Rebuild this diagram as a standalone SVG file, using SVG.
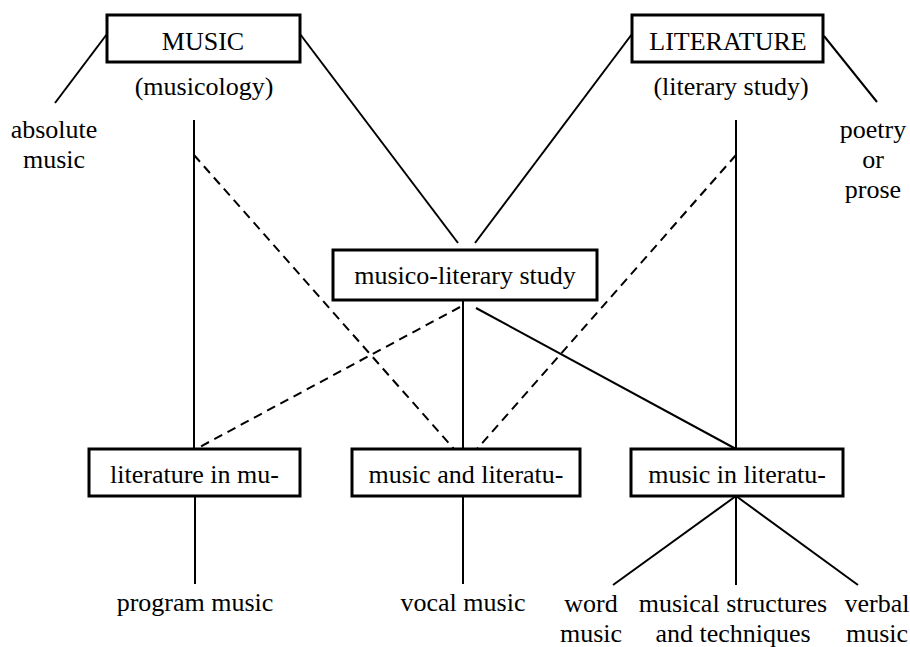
<svg xmlns="http://www.w3.org/2000/svg" width="910" height="647" viewBox="0 0 910 647">
<style>
text{font-family:"Liberation Serif","Times New Roman",serif;font-size:26px;fill:#000;text-anchor:middle}
.box{fill:#fff;stroke:#000;stroke-width:3}
.ln{stroke:#000;stroke-width:2;fill:none}
.ds{stroke:#000;stroke-width:2;fill:none;stroke-dasharray:9 6}
</style>
<rect width="910" height="647" fill="#fff"/>
<g id="connectors">
<line class="ln" x1="107" y1="34" x2="55" y2="103"/>
<line class="ln" x1="300" y1="34" x2="458" y2="243"/>
<line class="ln" x1="632" y1="34" x2="475" y2="243"/>
<line class="ln" x1="824" y1="36" x2="877" y2="102"/>
<line class="ln" x1="194" y1="120" x2="194" y2="449"/>
<line class="ln" x1="736" y1="120" x2="736" y2="449"/>
<line class="ds" x1="194" y1="155" x2="454" y2="449"/>
<line class="ds" x1="736" y1="155" x2="477" y2="449"/>
<line class="ds" x1="460" y1="307" x2="196" y2="449"/>
<line class="ln" x1="463" y1="301" x2="463" y2="449"/>
<line class="ln" x1="476" y1="308" x2="736" y2="449"/>
<line class="ln" x1="195" y1="496" x2="195" y2="584"/>
<line class="ln" x1="463" y1="496" x2="463" y2="584"/>
<line class="ln" x1="736" y1="496" x2="613" y2="585"/>
<line class="ln" x1="736" y1="496" x2="736" y2="585"/>
<line class="ln" x1="736" y1="496" x2="858" y2="585"/>
</g>
<g id="music">
<rect class="box" x="107" y="15" width="193" height="47"/>
<text x="203" y="50">MUSIC</text>
<text x="204" y="95">(musicology)</text>
</g>
<g id="literature">
<rect class="box" x="632" y="15" width="191" height="47"/>
<text x="728" y="50">LITERATURE</text>
<text x="731" y="95">(literary study)</text>
</g>
<g id="absolute-music">
<text x="54" y="138">absolute</text>
<text x="54" y="168">music</text>
</g>
<g id="poetry-prose">
<text x="873" y="138">poetry</text>
<text x="873" y="168">or</text>
<text x="873" y="198">prose</text>
</g>
<g id="musico-literary">
<rect class="box" x="333" y="250" width="264" height="50"/>
<text x="465" y="284">musico-literary study</text>
</g>
<g id="literature-in-music">
<rect class="box" x="89" y="449" width="211" height="47"/>
<text x="194.5" y="483">literature in mu-</text>
</g>
<g id="music-and-literature">
<rect class="box" x="352" y="449" width="228" height="47"/>
<text x="466" y="483">music and literatu-</text>
</g>
<g id="music-in-literature">
<rect class="box" x="631" y="449" width="212" height="47"/>
<text x="737" y="483">music in literatu-</text>
</g>
<g id="program-music"><text x="195" y="611">program music</text></g>
<g id="vocal-music"><text x="463" y="611">vocal music</text></g>
<g id="word-music">
<text x="591" y="612">word</text>
<text x="591" y="642">music</text>
</g>
<g id="musical-structures">
<text x="733" y="612">musical structures</text>
<text x="733" y="642">and techniques</text>
</g>
<g id="verbal-music">
<text x="877" y="612">verbal</text>
<text x="877" y="642">music</text>
</g>
</svg>
